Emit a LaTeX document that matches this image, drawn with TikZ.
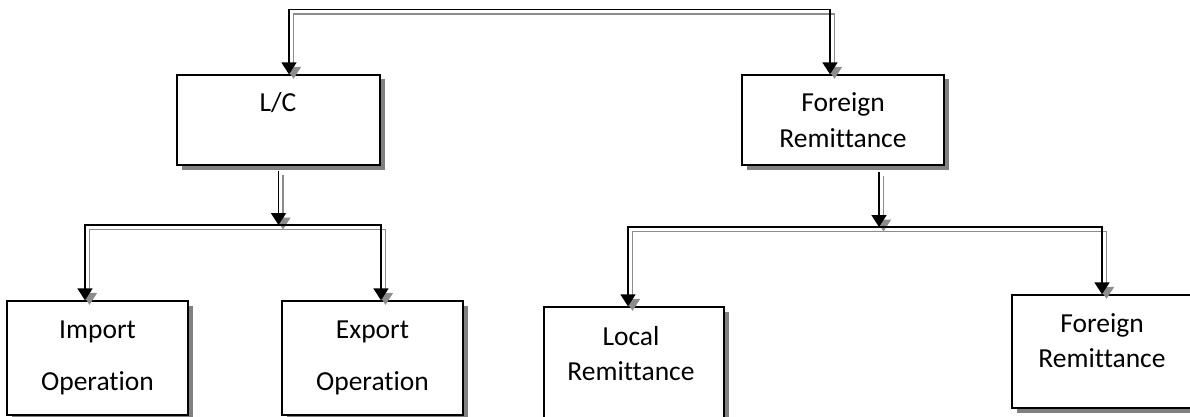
\documentclass[tikz,border=0pt]{standalone}
\usepackage{fontspec}
\setmainfont{Carlito}[Ligatures=NoCommon]
\usetikzlibrary{arrows.meta,shadows}

\definecolor{shade}{HTML}{808080}
\definecolor{echo}{HTML}{8C8C8C}

\tikzset{
  box/.style={rectangle, draw=black, line width=1.3pt, fill=white, inner sep=0pt,
    drop shadow={shadow xshift=4.5pt, shadow yshift=-4.5pt, fill=shade, opacity=1}},
  lbl/.style={font=\fontsize{27.5}{33}\selectfont, anchor=base, inner sep=0pt},
  link/.style={line width=1.6pt, -{Triangle[width=15pt,length=12pt]}},
  bus/.style={line width=1.6pt, {Triangle[width=15pt,length=12pt]}-{Triangle[width=15pt,length=12pt]}},
}

% a connector drawn twice: a grey echo offset down-right, then the black line
\newcommand\twinpath[2]{%
  \draw[#1,draw=echo,transform canvas={xshift=4.5pt,yshift=-4.5pt}] #2;
  \draw[#1,draw=black] #2;}

\begin{document}
\begin{tikzpicture}[x=1pt,y=-1pt]
\useasboundingbox (0,0) rectangle (1190,417);
\clip (0,0) rectangle (1190,417);

% boxes
\node[box, minimum width=203pt, minimum height=90pt]  (lc)  at (278.5,120) {};
\node[box, minimum width=202pt, minimum height=90pt]  (fr)  at (843,120)   {};
\node[box, minimum width=181pt, minimum height=114pt] (imp) at (97.5,358)  {};
\node[box, minimum width=181pt, minimum height=114pt] (exp) at (372.5,358) {};
\node[box, minimum width=180pt, minimum height=120pt] (loc) at (634,367)   {};
\node[box, minimum width=180pt, minimum height=113pt] (frx) at (1102,351.5) {};

% box texts
\node[lbl] (lc-1)  at (278,112)  {L/C};
\node[lbl] (fr-1)  at (843,112)  {Foreign};
\node[lbl] (fr-2)  at (843,147)  {Remittance};
\node[lbl] (imp-1) at (97.5,338) {Import};
\node[lbl] (imp-2) at (97.5,390) {Operation};
\node[lbl] (exp-1) at (372.5,338) {Export};
\node[lbl] (exp-2) at (372.5,390) {Operation};
\node[lbl] (loc-1) at (631,345)  {Local};
\node[lbl] (loc-2) at (631,380)  {Remittance};
\node[lbl] (frx-1) at (1102,332) {Foreign};
\node[lbl] (frx-2) at (1102,367) {Remittance};

% junction points of the lower buses
\coordinate (lcbus) at (278.5,225);
\coordinate (frbus) at (879,227);

% top bus between the two main boxes
\twinpath{bus}{([xshift=10.5pt]lc.north) -- ++(0,-65) -| ([xshift=-13pt]fr.north)}

% L/C branch
\twinpath{link}{([yshift=-5pt]lc.south) -- (lcbus)}
\twinpath{bus}{([xshift=-12.5pt]imp.north) |- (lcbus) -| ([xshift=8.5pt]exp.north)}

% Foreign Remittance branch
\twinpath{link}{([xshift=36pt,yshift=-6pt]fr.south) -- (frbus)}
\twinpath{bus}{([xshift=-6pt]loc.north) |- (frbus) -| (frx.north)}
\end{tikzpicture}
\end{document}
